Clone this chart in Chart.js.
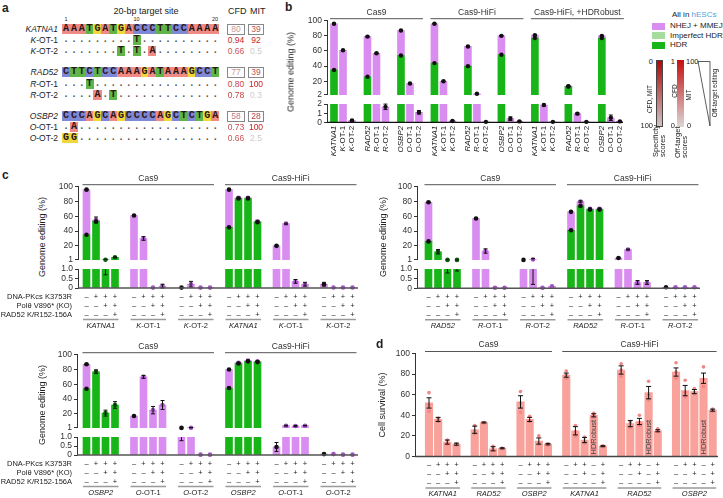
<!DOCTYPE html>
<html>
<head>
<meta charset="utf-8">
<title>Genome editing and cell survival</title>
<script src="https://cdn.jsdelivr.net/npm/chart.js@4.4.1/dist/chart.umd.min.js"></script>
<style>
  html, body { margin: 0; padding: 0; background: #fff; }
  #fig { position: relative; width: 723px; height: 498px; overflow: hidden;
         font-family: 'Liberation Sans', Arial, sans-serif; color: #222; }
  #fig .t { position: absolute; white-space: nowrap; line-height: 1; z-index: 2; }
  #fig canvas { position: absolute; z-index: 1; }
</style>
</head>
<body>
<div id="fig"></div>
<script>
// ---- panel a: target sites ----
const siteNames = ['KATNA1', 'K-OT-1', 'K-OT-2', 'RAD52', 'R-OT-1', 'R-OT-2', 'OSBP2', 'O-OT-1', 'O-OT-2'];
const siteSeqs = [
    'AAATGATGACCCTTCCAAAA', '.........T..........', '.......T.T.A........',
    'CTTCTCCAAAGATAAAGCCT', '...T................', '....A.T.............',
    'CCCAGCAGCCCCAGCTCTGA', '.A..................', 'GG..................'
];
const cfdScores = [80, 0.94, 0.66, 77, 0.80, 0.78, 58, 0.73, 0.66];
const mitScores = [39, 92, 0.5, 39, 100, 0.3, 28, 100, 2.5];

// ---- panel b: editing per site ----
const bConditions = ['Cas9', 'Cas9-HiFi', 'Cas9-HiFi, +HDRobust'];
const bSites = siteNames;
const bTotal = [96, 61, 0.2, 79, 57, 1.7, 87, 17, 1.1,
                96, 20, 0.15, 66, 3.5, 0.05, 80, 0.4, 0.1,
                81, 1.9, 0.05, 13.5, 0.95, 0.05, 80, 0.5, 0.1];
const bHdr = [35, 0, 0, 26, 0, 0, 54, 0, 0,
              44, 0, 0, 40, 0, 0, 55, 0, 0,
              77, 0, 0, 13, 0, 0, 77, 0, 0];
const bErr = [0.6, 0.5, 0.1, 0.5, 0.6, 0.3, 0.4, 0.5, 0.2,
              0.5, 0.6, 0.05, 0.6, 0.3, 0, 0.5, 0.2, 0.05,
              0.8, 0.1, 0, 0.5, 0.1, 0, 0.5, 0.3, 0.05];

// ---- panel c: repair mutants ----
const cConditions = ['Cas9', 'Cas9-HiFi'];
const cMutations = ['DNA-PKcs K3753R', 'Polθ V896* (KO)', 'RAD52 K/R152-156A'];
const cSigns = [['-', '+', '+', '+'], ['-', '-', '+', '+'], ['-', '-', '-', '+']];

const cKatSites = ['KATNA1', 'K-OT-1', 'K-OT-2'];
const cKatTotal = [96, 55, 1.2, 4.5, 61, 30, 0.02, 0.1, 0.02, 0.2, 0.02, 0.02,
                   96, 85, 85, 53, 20, 50, 0.35, 0.2, 0.2, 0.03, 0.03, 0.03];
const cKatHdr = [35, 53, 1.2, 4.5, 0, 0, 0, 0, 0, 0, 0, 0,
                 45, 84, 84, 52, 0, 0, 0, 0, 0, 0, 0, 0];
const cKatErr = [0.5, 4, 0.5, 0.6, 0.5, 2.5, 0, 0.1, 0, 0.15, 0, 0,
                 0.5, 1, 1, 1.5, 0.5, 0.8, 0.1, 0.1, 0.1, 0, 0, 0];

const cRadSites = ['RAD52', 'R-OT-1', 'R-OT-2'];
const cRadTotal = [79, 12, 1.0, 1.0, 57, 13, 0.02, 0.02, 1.0, 1.6, 0.02, 0.1,
                   66, 80, 70, 70, 3.5, 15, 0.3, 0.3, 0.05, 0.05, 0.05, 0.05];
const cRadHdr = [26, 12, 1.0, 1.0, 0, 0, 0, 0, 0, 0, 0, 0,
                 41, 74, 69, 69, 0, 0, 0, 0, 0, 0, 0, 0];
const cRadErr = [0.5, 3, 0.2, 0.1, 0.5, 3, 0, 0, 0, 1.4, 0, 0,
                 0.5, 1, 1, 1, 0.3, 0.7, 0.1, 0.1, 0, 0, 0, 0];

const cOsbSites = ['OSBP2', 'O-OT-1', 'O-OT-2'];
const cOsbTotal = [87, 77, 21, 32, 17, 70, 25, 32, 1.0, 1.3, 0.02, 0.02,
                   80, 89, 92, 91, 0.45, 4, 3.5, 4, 0.05, 0.05, 0.02, 0.02];
const cOsbHdr = [54, 77, 21, 32, 0, 0, 0, 0, 0, 0, 0, 0,
                 55, 88, 91, 90, 0, 0, 0, 0, 0, 0, 0, 0];
const cOsbErr = [0.5, 2.5, 4, 4.5, 0.5, 2, 5, 6, 0.2, 0.2, 0, 0,
                 0.5, 0.7, 0.5, 0.5, 0.25, 0.5, 0.8, 0.3, 0, 0, 0, 0];

// ---- panel d: cell survival ----
const dSites = ['KATNA1', 'RAD52', 'OSBP2'];
const dSignsHifi = [['-', '+', '+', '-', '+'], ['-', '-', '+', '-', '+'], ['-', '-', '-', '-', '+']];
const dHdrRobustBar = 3;
const dCas9Mean = [52, 36, 14, 12, 26, 33, 7.5, 8, 53, 36, 15, 12];
const dCas9Err = [5, 2, 2, 1, 3.5, 0.5, 2, 0.5, 6, 2, 3, 0.7];
const dCas9Reps = [[62, 50, 44], [37, 35, 34], [16, 13, 12], [12, 12, 11],
                   [30, 25, 22], [33, 33, 32.5], [10, 7, 6], [8, 8, 7.5],
                   [63, 52, 43], [39, 35, 34], [20, 13, 12], [12, 12, 11]];
const dHifiMean = [79, 25, 16, 40, 10, 84, 32, 34, 62, 25, 82, 64, 63, 76, 45];
const dHifiErr = [2, 4, 2.5, 1.5, 0.5, 4, 3, 3, 6, 1, 4, 5, 2, 5, 1];
const dHifiReps = [[83, 79, 76], [30, 24, 20], [19, 15, 13], [42, 40, 38], [10.5, 10, 9.5],
                   [90, 84, 78], [34, 32, 28], [40, 33, 30], [73, 60, 55], [27, 25, 24],
                   [91, 82, 76], [74, 62, 58], [66, 62, 61], [87, 75, 68], [46, 45, 44]];

// ---- styles ----
const FONT = "'Liberation Sans', Arial, sans-serif";
const VIOLET = '#da8df0', GREEN = '#17b517', PALE_GREEN = '#a6dc9e', SALMON = '#f9a29c';
const baseColors = { A: '#f08a84', C: '#7f88d6', G: '#f0d83c', T: '#5fb548' };
const fig = document.getElementById('fig');

function label(html, x, y, opt = {}) {
    const d = document.createElement('div');
    d.className = 't';
    d.innerHTML = html;
    d.style.left = x + 'px';
    d.style.top = y + 'px';
    d.style.fontSize = (opt.size || 9) + 'px';
    d.style.color = opt.color || '#222';
    if (opt.bold) d.style.fontWeight = 'bold';
    const shift = { left: '0', center: '-50%', right: '-100%' }[opt.align || 'left'];
    if (opt.rotate === 'center') {
        d.style.transform = 'translate(-50%,-50%) rotate(-90deg)';
    } else if (opt.rotate === 'start') {
        d.style.transformOrigin = 'left center';
        d.style.transform = 'translate(0,-50%) rotate(-90deg)';
    } else {
        d.style.transform = `translate(${shift},-50%)`;
    }
    fig.appendChild(d);
    return d;
}

function box(x, y, w, h, css) {
    const d = document.createElement('div');
    d.style.position = 'absolute';
    d.style.boxSizing = 'border-box';
    d.style.left = x + 'px';
    d.style.top = y + 'px';
    d.style.width = w + 'px';
    d.style.height = h + 'px';
    Object.assign(d.style, css);
    fig.appendChild(d);
    return d;
}

function mixHex(a, b, t) {
    const pa = [1, 3, 5].map(k => parseInt(a.substr(k, 2), 16));
    const pb = [1, 3, 5].map(k => parseInt(b.substr(k, 2), 16));
    return 'rgb(' + pa.map((v, k) => Math.round(v + (pb[k] - v) * t)).join(',') + ')';
}
const specColor = v => mixHex('#b40c0c', '#cbbfbf', v / 100);
const offColor = t => mixHex('#cfcaca', '#c81c1c', t);

const isOffTarget = n => n.includes('-OT-');
const geneHtml = n => isOffTarget(n) ? `<i>${n[0]}</i>${n.slice(1)}` : `<i>${n}</i>`;

function slotX(sizes, gap) {
    const xs = [];
    let x = 0;
    sizes.forEach(n => {
        for (let i = 0; i < n; i++) xs.push(x + i);
        x += n + gap;
    });
    return xs;
}

// draw a gene name (italic gene, italic first letter for off-targets)
function drawGene(ctx, name, x, y, size, align) {
    const parts = isOffTarget(name)
        ? [[name[0], `italic ${size}px ${FONT}`], [name.slice(1), `${size}px ${FONT}`]]
        : [[name, `italic ${size}px ${FONT}`]];
    let w = 0;
    parts.forEach(p => { ctx.font = p[1]; w += ctx.measureText(p[0]).width; });
    let cx = align === 'right' ? x - w : x - w / 2;
    ctx.textAlign = 'left';
    parts.forEach(p => {
        ctx.font = p[1];
        ctx.fillText(p[0], cx, y);
        cx += ctx.measureText(p[0]).width;
    });
}

// ---- chart plumbing ----
function decoPlugin(o) {
    return {
        id: 'deco',
        afterDatasetsDraw(chart) {
            const ctx = chart.ctx, a = chart.chartArea;
            const X = chart.scales.x, Y = chart.scales.y;
            const px = i => X.getPixelForValue(o.xs[i]);
            ctx.save();
            if (o.errors) {
                ctx.strokeStyle = '#111';
                ctx.lineWidth = 1;
                const inRange = v => v >= Y.min && v <= Y.max;
                const clamp = v => Math.min(Y.max, Math.max(Y.min, v));
                o.errors.forEach(e => {
                    const lo = clamp(e.lo), hi = clamp(e.hi);
                    if (hi <= lo) return;
                    const x = px(e.i), y1 = Y.getPixelForValue(lo), y2 = Y.getPixelForValue(hi);
                    ctx.beginPath();
                    ctx.moveTo(x, y1); ctx.lineTo(x, y2);
                    if (inRange(e.lo)) { ctx.moveTo(x - o.cap, y1); ctx.lineTo(x + o.cap, y1); }
                    if (inRange(e.hi)) { ctx.moveTo(x - o.cap, y2); ctx.lineTo(x + o.cap, y2); }
                    ctx.stroke();
                });
            }
            if (o.baseline) {
                ctx.strokeStyle = o.baseline.color;
                ctx.lineWidth = o.baseline.width;
                ctx.beginPath();
                ctx.moveTo(a.left, a.bottom);
                ctx.lineTo(a.right, a.bottom);
                ctx.stroke();
            }
            if (o.titles) {
                ctx.strokeStyle = '#555';
                ctx.lineWidth = 1;
                ctx.fillStyle = '#333';
                ctx.font = `8.5px ${FONT}`;
                ctx.textAlign = 'center';
                ctx.textBaseline = 'middle';
                o.titles.forEach(t => {
                    const x1 = px(t.from) - 4, x2 = px(t.to) + 4, y = a.top - 2;
                    ctx.beginPath();
                    ctx.moveTo(x1, y); ctx.lineTo(x2, y);
                    ctx.stroke();
                    ctx.fillText(t.text, (x1 + x2) / 2, y - 6.5);
                });
            }
            if (o.rows) {
                const base = a.bottom;
                ctx.fillStyle = '#222';
                ctx.textBaseline = 'middle';
                ctx.textAlign = 'center';
                ctx.font = `7.5px ${FONT}`;
                o.rows.signs.forEach((row, r) => {
                    row.forEach((s, i) => ctx.fillText(s === '-' ? '–' : '+', px(i), base + 8.5 + r * 9));
                });
                o.rows.groups.forEach(g => {
                    const x1 = px(g.from) - 3.5, x2 = px(g.to) + 3.5;
                    ctx.strokeStyle = '#9a9a9a';
                    ctx.lineWidth = 1.5;
                    ctx.beginPath();
                    ctx.moveTo(x1, base + 31.5); ctx.lineTo(x2, base + 31.5);
                    ctx.stroke();
                    ctx.fillStyle = '#222';
                    drawGene(ctx, g.name, (x1 + x2) / 2, base + 37.5, 7.5, 'center');
                });
            }
            if (o.tickNames) {
                ctx.fillStyle = '#222';
                ctx.textBaseline = 'middle';
                o.tickNames.forEach((n, i) => {
                    ctx.save();
                    ctx.translate(px(i), a.bottom + 3.5);
                    ctx.rotate(-Math.PI / 2);
                    drawGene(ctx, n, 0, 0, 8, 'right');
                    ctx.restore();
                });
            }
            if (o.barText) {
                ctx.fillStyle = '#444';
                ctx.font = `7.5px ${FONT}`;
                ctx.textAlign = 'left';
                ctx.textBaseline = 'middle';
                o.barText.forEach(bt => {
                    ctx.save();
                    ctx.translate(px(bt.i), a.bottom - 2);
                    ctx.rotate(-Math.PI / 2);
                    ctx.fillText(bt.text, 0, 0.5);
                    ctx.restore();
                });
            }
            ctx.restore();
        }
    };
}

function makeChart(o) {
    const left = Math.floor(o.plotL - o.axisW), top = Math.floor(o.plotT - o.padT);
    const right = Math.ceil(o.plotR + 4), bottom = Math.ceil(o.plotB + o.padB);
    const cv = document.createElement('canvas');
    cv.width = right - left;
    cv.height = bottom - top;
    cv.style.left = left + 'px';
    cv.style.top = top + 'px';
    cv.style.width = cv.width + 'px';
    cv.style.height = cv.height + 'px';
    fig.appendChild(cv);
    const xMin = -(o.first - o.plotL) / o.pitch, xMax = (o.plotR - o.first) / o.pitch;
    return new Chart(cv, {
        type: 'bar',
        data: { datasets: o.datasets },
        options: {
            responsive: false,
            animation: false,
            devicePixelRatio: 1,
            events: [],
            layout: { padding: { left: 0, top: o.plotT - top, right: right - o.plotR, bottom: bottom - o.plotB } },
            plugins: { legend: { display: false }, tooltip: { enabled: false } },
            scales: {
                x: { type: 'linear', display: false, offset: false, min: xMin, max: xMax },
                y: {
                    type: 'linear',
                    min: o.yMin,
                    max: o.yMax,
                    afterFit: s => { s.width = o.plotL - left; },
                    afterBuildTicks: s => { s.ticks = o.yTicks.map(v => ({ value: v })); },
                    ticks: {
                        autoSkip: false,
                        callback: o.yFmt || (v => String(v)),
                        font: { family: FONT, size: 8.5 },
                        color: '#333',
                        padding: 2
                    },
                    grid: { display: true, drawOnChartArea: false, drawTicks: true, tickLength: 3, color: '#333', lineWidth: 1 },
                    border: { display: true, color: '#333', width: 1 }
                }
            }
        },
        plugins: [decoPlugin(o)]
    });
}

function barDs(data, color, w) {
    return { type: 'bar', data, backgroundColor: color, borderWidth: 0, barThickness: w, grouped: false, order: 2 };
}
function dotDs(points, r) {
    return {
        type: 'scatter',
        data: points.map(p => ({ x: p.x, y: p.y })),
        pointRadius: r,
        pointBackgroundColor: points.map(p => p.c),
        pointBorderWidth: 0,
        clip: 4,
        order: 1
    };
}

// split stacked HDR / NHEJ bars into one axis segment
function segData(xs, total, hdr, lo, hi) {
    const g = [], v = [];
    xs.forEach((x, i) => {
        const h = hdr[i], t = total[i];
        if (h > lo) g.push({ x, y: [lo, Math.min(h, hi)] });
        const b0 = Math.max(h, lo), b1 = Math.min(t, hi);
        if (b1 > b0) v.push({ x, y: [b0, b1] });
    });
    return [barDs(g, GREEN, 7), barDs(v, VIOLET, 7)];
}

// ---- panel a ----
const seqX0 = 62, cellW = 7.85;
const rowY = [29, 40, 51, 72, 83.5, 94.5, 116, 127, 138];
label('a', 2, 8, { size: 12, bold: true });
label('20-bp target site', 146, 11, { size: 9, align: 'center' });
label('CFD', 228, 11, { size: 9 });
label('MIT', 250, 11, { size: 9 });
[[1, 0], [10, 9], [20, 19]].forEach(([n, i]) => label(String(n), seqX0 + (i + 0.5) * cellW, 20, { size: 5.5, align: 'center' }));
siteNames.forEach((name, r) => {
    const y = rowY[r];
    label(geneHtml(name), 58, y, { size: 8.5, align: 'right' });
    [...siteSeqs[r]].forEach((ch, i) => {
        const d = box(seqX0 + i * cellW, y - 5, cellW + 0.3, 10, {
            background: baseColors[ch] || 'transparent',
            color: ch === '.' ? '#555' : '#2a1616',
            font: "bold 10px 'Liberation Mono', monospace",
            lineHeight: '10px',
            textAlign: 'center'
        });
        d.textContent = ch;
    });
    const onTarget = !isOffTarget(name);
    const cfdTxt = onTarget ? String(cfdScores[r]) : cfdScores[r].toFixed(2);
    const cfdCol = onTarget ? specColor(cfdScores[r]) : offColor(cfdScores[r]);
    const mitCol = onTarget ? specColor(mitScores[r]) : offColor(mitScores[r] / 100);
    if (onTarget) {
        box(227, y - 5.5, 18, 11, { border: '1px solid #888' });
        box(248, y - 5.5, 16, 11, { border: '1px solid #888' });
    }
    label(cfdTxt, 236, y, { size: 8.5, align: 'center', color: cfdCol });
    label(String(mitScores[r]), 256, y, { size: 8.5, align: 'center', color: mitCol });
});

// ---- panel b ----
const bXs = slotX(Array(9).fill(3), 0.72);
const bGeom = { xs: bXs, plotL: 327, plotR: 623, first: 334, pitch: 9, axisW: 30, cap: 2 };
const bErrors = bXs.map((x, i) => ({ i, lo: Math.max(0, bTotal[i] - bErr[i]), hi: bTotal[i] + bErr[i] }));
const bDots = [];
bXs.forEach((x, i) => {
    bDots.push({ x, y: bTotal[i], c: '#111' });
    if (bHdr[i] > 0) bDots.push({ x, y: bHdr[i], c: '#111' });
});
makeChart({
    ...bGeom, plotT: 20.7, plotB: 95.7, padT: 20, padB: 6,
    yMin: 2, yMax: 100, yTicks: [2, 20, 40, 60, 80, 100],
    datasets: [...segData(bXs, bTotal, bHdr, 2, 100), dotDs(bDots.filter(d => d.y >= 2), 2.2)],
    errors: bErrors,
    titles: bConditions.map((c, k) => ({ text: c, from: k * 9, to: k * 9 + 8 }))
});
makeChart({
    ...bGeom, plotT: 103.3, plotB: 122.3, padT: 6, padB: 40,
    yMin: 0, yMax: 2, yTicks: [0, 1, 2],
    datasets: [...segData(bXs, bTotal, bHdr, 0, 2), dotDs(bDots.filter(d => d.y < 2), 2.2)],
    errors: bErrors,
    baseline: { color: '#111', width: 1.2 },
    tickNames: bXs.map((x, i) => bSites[i % 9])
});
label('b', 285, 7, { size: 12, bold: true });
label('Genome editing (%)', 291, 72, { size: 9, rotate: 'center' });

// legend of b
label('All in <span style="color:#4da3e0">hESCs</span>', 672, 15, { size: 8 });
[[VIOLET, 'NHEJ + MMEJ', 26], [PALE_GREEN, 'Imperfect HDR', 35.5], [GREEN, 'HDR', 45]].forEach(([c, t, y]) => {
    box(652, y - 3.5, 13, 7, { background: c });
    label(t, 670, y, { size: 8 });
});
box(656, 60, 7, 67, { background: 'linear-gradient(#b00808, #cdc3c3)', border: '1px solid #444' });
label('0', 653, 62, { size: 7.5, align: 'right' });
label('100', 653, 125.5, { size: 7.5, align: 'right' });
label('CFD, MIT', 650, 99, { size: 6.5, rotate: 'center' });
box(677, 60, 6.5, 67, { background: 'linear-gradient(#c41010, #dcd6d6)' });
label('1', 675, 62, { size: 7.5, align: 'right' });
label('0', 675, 125.5, { size: 7.5, align: 'right' });
label('100', 686, 62, { size: 7.5 });
label('0', 687, 125.5, { size: 7.5 });
label('CFD', 674.5, 91, { size: 6.5, rotate: 'center' });
label('MIT', 688.5, 95, { size: 6.5, rotate: 'center' });
label('Specificty', 655.5, 157, { size: 7.5, rotate: 'start' });
label('scores', 662.5, 157, { size: 7.5, rotate: 'start' });
label('Off-target', 677.5, 158, { size: 7.5, rotate: 'start' });
label('scores', 684.5, 158, { size: 7.5, rotate: 'start' });
label('Off-target editing', 715, 93, { size: 6.5, rotate: 'center' });
const tri = document.createElementNS('http://www.w3.org/2000/svg', 'svg');
tri.setAttribute('width', '30');
tri.setAttribute('height', '80');
tri.style.position = 'absolute';
tri.style.left = '690px';
tri.style.top = '55px';
tri.innerHTML = '<polygon points="8,6.5 20,6.5 20,71" fill="none" stroke="#333" stroke-width="0.8"/>';
fig.appendChild(tri);

// ---- panel c ----
function cPanel(p) {
    const xs = slotX([4, 4, 4, 4, 4, 4], 1);
    const geom = { xs, plotL: p.plotL, plotR: p.plotR, first: p.first, pitch: 9.5, axisW: 30, cap: 2 };
    const dots = [];
    xs.forEach((x, i) => {
        const wt = i % 4 === 0;
        const greenTop = p.hdr[i] > 0 && p.hdr[i] >= p.total[i] - 0.3;
        dots.push({ x, y: p.total[i], c: wt ? '#111' : (greenTop ? '#0c5f0c' : '#a055c2') });
        if (p.hdr[i] > 0 && !greenTop) dots.push({ x, y: p.hdr[i], c: '#111' });
    });
    const errors = xs.map((x, i) => ({ i, lo: Math.max(0, p.total[i] - p.err[i]), hi: p.total[i] + p.err[i] }));
    const groups = [];
    for (let g = 0; g < 6; g++) groups.push({ name: p.sites[g % 3], from: g * 4, to: g * 4 + 3 });
    makeChart({
        ...geom, plotT: p.upper[0], plotB: p.upper[1], padT: 16, padB: 6,
        yMin: 1, yMax: 100, yTicks: [1, 20, 40, 60, 80, 100],
        datasets: [...segData(xs, p.total, p.hdr, 1, 100), dotDs(dots.filter(d => d.y >= 1), 2.3)],
        errors,
        titles: cConditions.map((c, k) => ({ text: c, from: k * 12, to: k * 12 + 11 }))
    });
    makeChart({
        ...geom, plotT: p.lower[0], plotB: p.lower[1], padT: 6, padB: 44,
        yMin: 0, yMax: 1, yTicks: [0, 0.5, 1], yFmt: v => (v === 1 ? '1.0' : String(v)),
        datasets: [...segData(xs, p.total, p.hdr, 0, 1), dotDs(dots.filter(d => d.y < 1), 2.3)],
        errors,
        baseline: { color: '#555', width: 1.5 },
        rows: { signs: cSigns.map(row => xs.map((x, i) => row[i % 4])), groups }
    });
    label('Genome editing (%)', p.yLabelX, (p.upper[0] + p.lower[1]) / 2, { size: 9, rotate: 'center' });
    if (p.rowLabels) {
        cMutations.forEach((m, r) => label(m, 72, p.lower[1] + 8.5 + r * 9, { size: 7.5, align: 'right' }));
    }
}
label('c', 2, 175, { size: 12, bold: true });
cPanel({ sites: cKatSites, total: cKatTotal, hdr: cKatHdr, err: cKatErr,
         plotL: 78, plotR: 358, first: 86.5, upper: [186.7, 260.5], lower: [268, 288], yLabelX: 42, rowLabels: true });
cPanel({ sites: cRadSites, total: cRadTotal, hdr: cRadHdr, err: cRadErr,
         plotL: 417, plotR: 700, first: 428.5, upper: [186.7, 261], lower: [268.2, 288.2], yLabelX: 383, rowLabels: false });
cPanel({ sites: cOsbSites, total: cOsbTotal, hdr: cOsbHdr, err: cOsbErr,
         plotL: 77, plotR: 358, first: 86.5, upper: [354.7, 429], lower: [436, 455], yLabelX: 42, rowLabels: true });

// ---- panel d ----
const dXs = slotX([4, 4, 4, 5, 5, 5], 1);
const dMean = dCas9Mean.concat(dHifiMean);
const dErr = dCas9Err.concat(dHifiErr);
const dReps = dCas9Reps.concat(dHifiReps);
const dDots = [];
dXs.forEach((x, i) => dReps[i].forEach(v => dDots.push({ x, y: v, c: '#f28585' })));
const dGroups = [], dSigns = [[], [], []], dBarText = [];
dXs.forEach((x, i) => {
    const hifi = i >= 12;
    const k = hifi ? (i - 12) % 5 : i % 4;
    cSigns.forEach((row, r) => dSigns[r].push(hifi ? dSignsHifi[r][k] : row[k]));
    if (hifi && k === dHdrRobustBar) dBarText.push({ i, text: 'HDRobust' });
});
for (let g = 0; g < 3; g++) dGroups.push({ name: dSites[g], from: g * 4, to: g * 4 + 3 });
for (let g = 0; g < 3; g++) dGroups.push({ name: dSites[g], from: 12 + g * 5, to: 12 + g * 5 + 4 });
makeChart({
    xs: dXs, plotL: 415, plotR: 718, first: 429, pitch: 9.15, axisW: 30, cap: 2.5,
    plotT: 353.5, plotB: 456.5, padT: 16, padB: 42,
    yMin: 0, yMax: 100, yTicks: [0, 20, 40, 60, 80, 100],
    datasets: [barDs(dXs.map((x, i) => ({ x, y: [0, dMean[i]] })), SALMON, 7.5), dotDs(dDots, 1.8)],
    errors: dXs.map((x, i) => ({ i, lo: dMean[i] - dErr[i], hi: dMean[i] + dErr[i] })),
    titles: [{ text: 'Cas9', from: 0, to: 11 }, { text: 'Cas9-HiFi', from: 12, to: 26 }],
    baseline: { color: '#444', width: 1.5 },
    rows: { signs: dSigns, groups: dGroups },
    barText: dBarText
});
label('d', 376, 344, { size: 12, bold: true });
label('Cell survival (%)', 382, 405, { size: 9, rotate: 'center' });
</script>
</body>
</html>
